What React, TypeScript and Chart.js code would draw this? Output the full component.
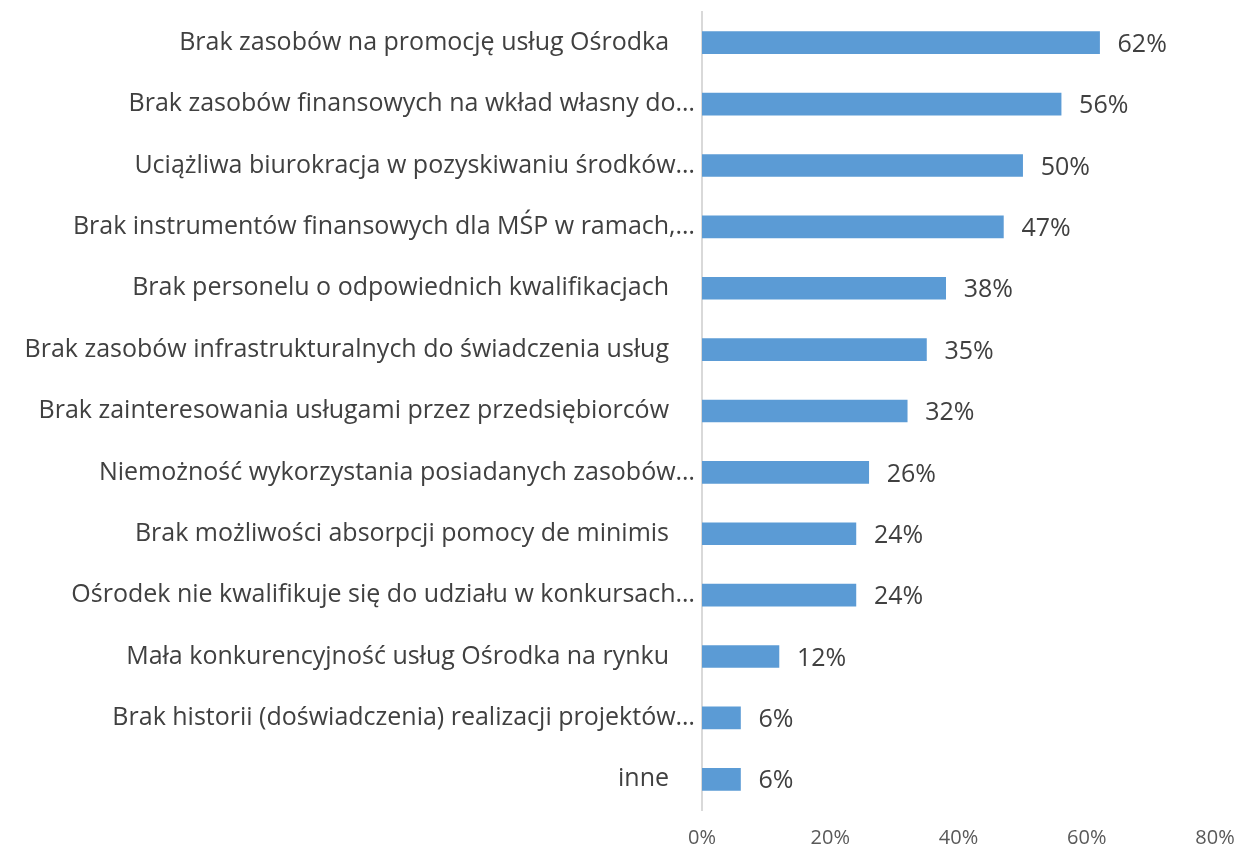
import React, { useEffect, useRef } from "react";
import { Chart, registerables } from "chart.js";

Chart.register(...registerables);

const categories: string[] = [
  "Brak zasobów na promocję usług Ośrodka    ",
  "Brak zasobów finansowych na wkład własny do…",
  "Uciążliwa biurokracja w pozyskiwaniu środków…",
  "Brak instrumentów finansowych dla MŚP w ramach,…",
  "Brak personelu o odpowiednich kwalifikacjach    ",
  "Brak zasobów infrastrukturalnych do świadczenia usług    ",
  "Brak zainteresowania usługami przez przedsiębiorców    ",
  "Niemożność wykorzystania posiadanych zasobów…",
  "Brak możliwości absorpcji pomocy de minimis    ",
  "Ośrodek nie kwalifikuje się do udziału w konkursach…",
  "Mała konkurencyjność usług Ośrodka na rynku    ",
  "Brak historii (doświadczenia) realizacji projektów…",
  "inne    ",
];

const values: number[] = [62, 56, 50, 47, 38, 35, 32, 26, 24, 24, 12, 6, 6];

const xTicks: number[] = [0, 20, 40, 60, 80];

const FONT = "'Open Sans', sans-serif";

const valueLabels = {
  id: "valueLabels",
  afterDatasetsDraw(chart: any) {
    const ctx = chart.ctx;
    const meta = chart.getDatasetMeta(0);
    ctx.save();
    ctx.font = `25px ${FONT}`;
    ctx.fillStyle = "#404040";
    ctx.textAlign = "left";
    ctx.textBaseline = "middle";
    meta.data.forEach((bar: any, i: number) => {
      ctx.fillText(`${values[i]}%`, bar.x + 18, bar.y + 2);
    });
    ctx.restore();
  },
};

export default function App() {
  const ref = useRef<HTMLCanvasElement | null>(null);
  useEffect(() => {
    if (!ref.current) return;
    const chart = new Chart(ref.current, {
      type: "bar",
      data: {
        labels: categories,
        datasets: [
          {
            data: values,
            backgroundColor: "#5b9bd5",
            barThickness: 22,
          },
        ],
      },
      options: {
        indexAxis: "y",
        animation: false,
        responsive: true,
        maintainAspectRatio: false,
        layout: { padding: { top: 12, right: 30, bottom: 0, left: 0 } },
        plugins: {
          legend: { display: false },
          tooltip: { enabled: false },
        },
        scales: {
          x: {
            min: 0,
            max: 80,
            afterBuildTicks: (scale: any) => {
              scale.ticks = xTicks.map((v) => ({ value: v }));
            },
            afterFit: (scale: any) => {
              scale.height = 41;
              scale.paddingLeft = 0;
              scale.paddingRight = 0;
            },
            grid: { display: false, drawTicks: false },
            border: { display: false },
            ticks: {
              padding: 16,
              color: "#595959",
              font: { family: FONT, size: 20 },
              callback: (v: any) => `${v}%`,
            },
          },
          y: {
            grid: { display: false, drawTicks: false },
            border: { display: true, color: "#d9d9d9", width: 2 },
            afterFit: (scale: any) => {
              scale.width = 702;
              scale.paddingTop = 0;
              scale.paddingBottom = 0;
            },
            ticks: {
              autoSkip: false,
              padding: 7,
              color: "#404040",
              font: { family: FONT, size: 25 },
            },
          },
        },
      },
      plugins: [valueLabels],
    });
    return () => chart.destroy();
  }, []);
  return (
    <div style={{ position: "fixed", left: 0, top: 0, width: 1245, height: 851, background: "#fff" }}>
      <canvas ref={ref} />
    </div>
  );
}
